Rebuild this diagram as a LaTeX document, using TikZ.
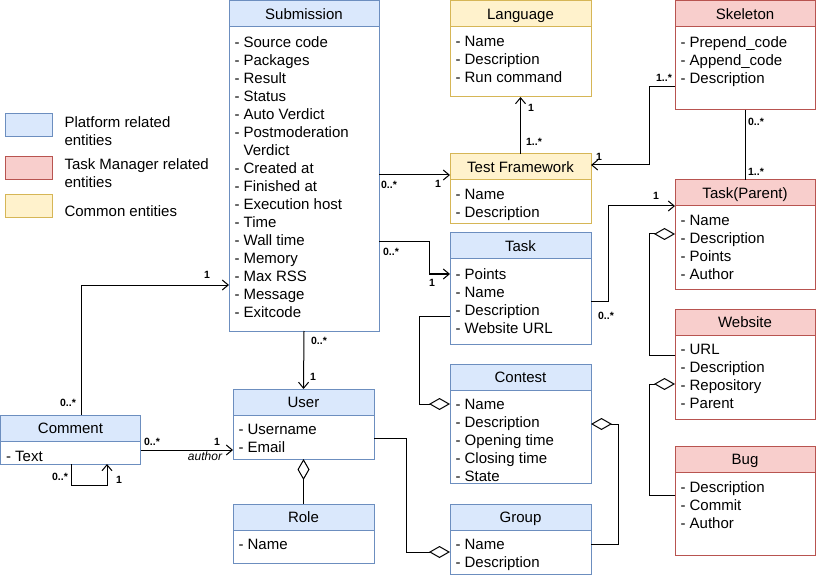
\documentclass[tikz,border=0pt]{standalone}
\usepackage{fontspec}
\setmainfont{Liberation Sans}
\usetikzlibrary{arrows.meta}

\definecolor{platfill}{HTML}{DAE8FC}
\definecolor{platdraw}{HTML}{6C8EBF}
\definecolor{tmfill}{HTML}{F8CECC}
\definecolor{tmdraw}{HTML}{B85450}
\definecolor{comfill}{HTML}{FFF2CC}
\definecolor{comdraw}{HTML}{D6B656}

\tikzset{
  hdr/.style={draw, anchor=north west, inner sep=0pt, outer sep=0pt, minimum height=26pt,
    text height=12pt, text depth=1pt, font=\fontsize{15}{18}\selectfont},
  body/.style={draw, fill=white, anchor=north, inner sep=0pt, outer sep=0pt},
  plath/.style={hdr, fill=platfill, draw=platdraw},
  platb/.style={body, draw=platdraw},
  tmh/.style={hdr, fill=tmfill, draw=tmdraw},
  tmb/.style={body, draw=tmdraw},
  comh/.style={hdr, fill=comfill, draw=comdraw},
  comb/.style={body, draw=comdraw},
  attr/.style={anchor=north west, inner sep=0pt, align=left, font=\fontsize{15}{18}\selectfont},
  legbox/.style={minimum width=47pt, minimum height=23pt, inner sep=0pt},
  legtext/.style={anchor=west, inner sep=0pt, align=left, font=\fontsize{15}{18}\selectfont},
  mult/.style={inner sep=0pt, font=\fontsize{10.5}{12}\selectfont\bfseries},
  assoc/.style={-{Straight Barb[length=6pt,width=10pt]}},
  aggr/.style={-{Diamond[fill=white,length=21pt,width=12pt]}}
}

\begin{document}
\begin{tikzpicture}[x=1pt,y=-1pt,line width=1pt]
\useasboundingbox (0,0) rectangle (816,577);

% legend
\node[legbox, fill=platfill, draw=platdraw] (leg-plat) at (28.5,125.5) {};
\node[legtext] (leg-plat-t) at (64,131) {Platform related\\entities};
\node[legbox, fill=tmfill, draw=tmdraw] (leg-tm) at (28.5,168) {};
\node[legtext] (leg-tm-t) at (64,173) {Task Manager related\\entities};
\node[legbox, fill=comfill, draw=comdraw] (leg-com) at (28.5,206.5) {};
\node[legtext] (leg-com-t) at (64,211) {Common entities};

% platform related
\node[plath, minimum width=150pt] (subm) at (229,1) {Submission};
\node[platb, minimum width=150pt, minimum height=304pt] (subm-a) at (subm.south) {};
\node[attr] (subm-t) at ([shift={(5,9)}]subm-a.north west) {- Source code\\- Packages\\- Result\\- Status\\- Auto Verdict\\- Postmoderation\\\phantom{- }Verdict\\- Created at\\- Finished at\\- Execution host\\- Time\\- Wall time\\- Memory\\- Max RSS\\- Message\\- Exitcode};

\node[plath, minimum width=141pt] (task) at (450,233) {Task};
\node[platb, minimum width=141pt, minimum height=85pt] (task-a) at (task.south) {};
\node[attr] (task-t) at ([shift={(5,9)}]task-a.north west) {- Points\\- Name\\- Description\\- Website URL};

\node[plath, minimum width=141pt] (cont) at (450,364) {Contest};
\node[platb, minimum width=141pt, minimum height=93pt] (cont-a) at (cont.south) {};
\node[attr] (cont-t) at ([shift={(5,9)}]cont-a.north west) {- Name\\- Description\\- Opening time\\- Closing time\\- State};

\node[plath, minimum width=141pt] (grp) at (450,504) {Group};
\node[platb, minimum width=141pt, minimum height=44pt] (grp-a) at (grp.south) {};
\node[attr] (grp-t) at ([shift={(5,9)}]grp-a.north west) {- Name\\- Description};

\node[plath, minimum width=141pt] (user) at (233,389) {User};
\node[platb, minimum width=141pt, minimum height=44pt] (user-a) at (user.south) {};
\node[attr] (user-t) at ([shift={(5,9)}]user-a.north west) {- Username\\- Email};

\node[plath, minimum width=141pt] (role) at (233,504) {Role};
\node[platb, minimum width=141pt, minimum height=33pt] (role-a) at (role.south) {};
\node[attr] (role-t) at ([shift={(5,9)}]role-a.north west) {- Name};

\node[plath, minimum width=140pt] (comm) at (0.5,415) {Comment};
\node[platb, minimum width=140pt, minimum height=23pt] (comm-a) at (comm.south) {};
\node[attr] (comm-t) at ([shift={(5,10)}]comm-a.north west) {- Text};

% common
\node[comh, minimum width=141pt] (lang) at (450,1) {Language};
\node[comb, minimum width=141pt, minimum height=70pt] (lang-a) at (lang.south) {};
\node[attr] (lang-t) at ([shift={(5,9)}]lang-a.north west) {- Name\\- Description\\- Run command};

\node[comh, minimum width=141pt] (tf) at (450,154) {Test Framework};
\node[comb, minimum width=141pt, minimum height=44pt] (tf-a) at (tf.south) {};
\node[attr] (tf-t) at ([shift={(5,9)}]tf-a.north west) {- Name\\- Description};

% task manager related
\node[tmh, minimum width=140pt] (skel) at (675,1) {Skeleton};
\node[tmb, minimum width=140pt, minimum height=83pt] (skel-a) at (skel.south) {};
\node[attr] (skel-t) at ([shift={(5,9)}]skel-a.north west) {- Prepend\_code\\- Append\_code\\- Description};

\node[tmh, minimum width=140pt] (tpar) at (675,180) {Task(Parent)};
\node[tmb, minimum width=140pt, minimum height=83pt] (tpar-a) at (tpar.south) {};
\node[attr] (tpar-t) at ([shift={(5,9)}]tpar-a.north west) {- Name\\- Description\\- Points\\- Author};

\node[tmh, minimum width=140pt] (web) at (675,309) {Website};
\node[tmb, minimum width=140pt, minimum height=84pt] (web-a) at (web.south) {};
\node[attr] (web-t) at ([shift={(5,9)}]web-a.north west) {- URL\\- Description\\- Repository\\- Parent};

\node[tmh, minimum width=140pt] (bug) at (675,446) {Bug};
\node[tmb, minimum width=140pt, minimum height=83pt] (bug-a) at (bug.south) {};
\node[attr] (bug-t) at ([shift={(5,9)}]bug-a.north west) {- Description\\- Commit\\- Author};

% associations
\draw[assoc] (subm-a.east |- 0,175) -- (tf.west |- 0,175);
\node[mult] (subtf-s) at (389,185) {0..*};
\node[mult] (subtf-t) at (438,184) {1};
\draw[assoc] (tf.north) -- (lang-a.south);
\node[mult] (tflang-t) at (531,108) {1};
\node[mult] (tflang-s) at (534,142) {1..*};
\draw[assoc] (skel-a.west |- 0,87) -- (649,87) -- (649,165) -- (tf.east |- 0,165);
\node[mult] (skeltf-s) at (664,78) {1..*};
\node[mult] (skeltf-t) at (599,157) {1};
\draw (skel-a.south) -- (tpar.north);
\node[mult] (skeltp-s) at (756,122) {0..*};
\node[mult] (skeltp-t) at (756,172) {1..*};
\draw[assoc] (task-a.east |- 0,301) -- (608,301) -- (608,206) -- (tpar-a.north west);
\node[mult] (tasktp-t) at (656,196) {1};
\node[mult] (tasktp-s) at (606,316) {0..*};
\draw[assoc] (subm-a.east |- 0,242) -- (429,242) -- (429,274) -- (task-a.west |- 0,274);
\node[mult] (subtask-s) at (391,252) {0..*};
\node[mult] (subtask-t) at (432,283) {1};
\draw[assoc] (subm-a.south) -- (user.north);
\node[mult] (subuser-s) at (319,341) {0..*};
\node[mult] (subuser-t) at (313,377) {1};
\draw[assoc] (comm.north -| 81,0) -- (81,285) -- (subm-a.west |- 0,285);
\node[mult] (commsub-t) at (207,275) {1};
\node[mult] (commsub-s) at (68,403) {0..*};
\draw[assoc] (comm-a.east |- 0,450) -- (user-a.west |- 0,450);
\node[mult] (commuser-s) at (152,442) {0..*};
\node[mult] (commuser-t) at (217,442) {1};
\node[inner sep=0pt, font=\fontsize{12}{14}\selectfont\itshape] (commuser-l) at (205,456) {author};
\draw[assoc] (comm-a.south -| 71,0) -- (71,485) -- (107,485) -- (comm-a.south -| 107,0);
\node[mult] (commself-s) at (60,477) {0..*};
\node[mult] (commself-t) at (119,480) {1};

% aggregations
\draw[aggr] (task-a.west |- 0,316) -- (419,316) -- (419,404) -- (cont-a.west |- 0,404);
\draw[aggr] (user-a.east |- 0,438) -- (406,438) -- (406,552) -- (grp-a.west |- 0,552);
\draw[aggr] (role.north) -- (user-a.south);
\draw[aggr] (grp-a.east |- 0,544) -- (618,544) -- (618,424) -- (cont-a.east |- 0,424);
\draw[aggr] (web-a.west |- 0,355) -- (649,355) -- (649,234) -- (tpar-a.west |- 0,234);
\draw[aggr] (bug-a.west |- 0,495) -- (649,495) -- (649,384) -- (web-a.west |- 0,384);
\end{tikzpicture}
\end{document}
